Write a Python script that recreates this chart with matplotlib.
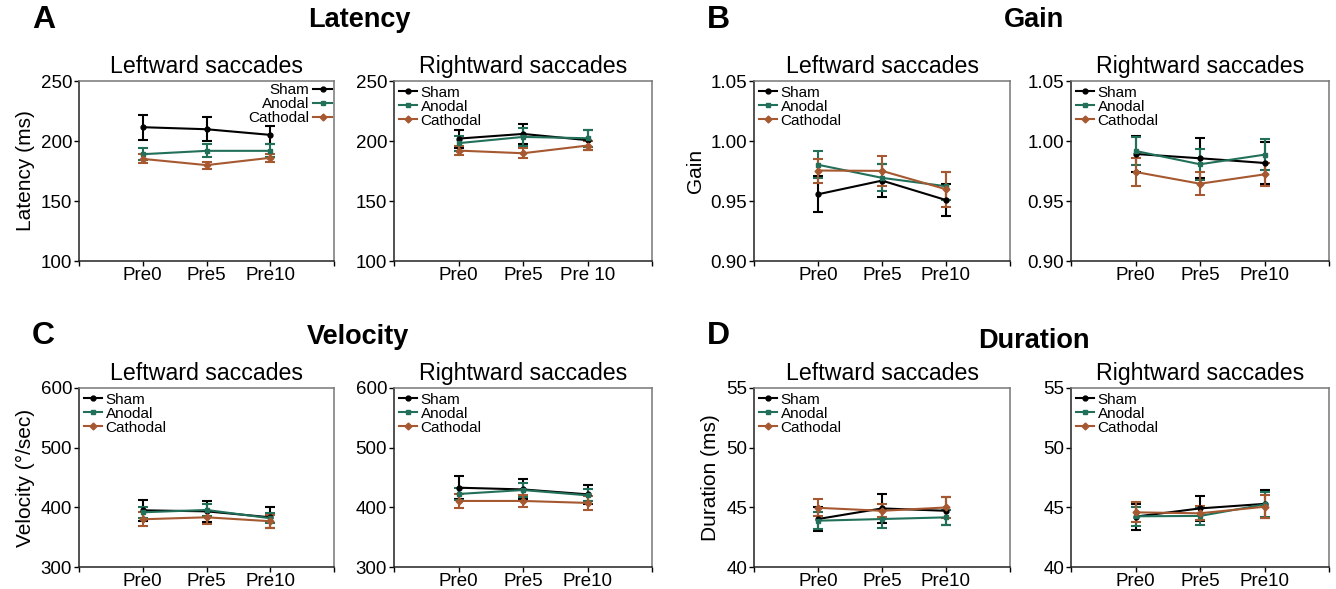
import matplotlib
matplotlib.use("Agg")
import matplotlib.pyplot as plt
from matplotlib.lines import Line2D

plt.rcParams['font.family'] = ['Liberation Sans', 'DejaVu Sans']

sessions = ["Pre0", "Pre5", "Pre10"]
sessions_alt = ["Pre0", "Pre5", "Pre 10"]
groups = ["Sham", "Anodal", "Cathodal"]

# Latency (ms)
lat_left_mean = {"Sham": [211.5, 209.8, 205.1], "Anodal": [189.0, 191.8, 191.8], "Cathodal": [185.1, 179.9, 186.0]}
lat_left_err = {"Sham": [10.5, 9.8, 7.8], "Anodal": [5.0, 5.5, 5.3], "Cathodal": [3.8, 3.0, 3.5]}
lat_right_mean = {"Sham": [202.0, 205.9, 200.7], "Anodal": [198.2, 203.4, 202.3], "Cathodal": [192.0, 189.8, 196.2]}
lat_right_err = {"Sham": [7.5, 8.1, 8.5], "Anodal": [6.2, 7.5, 7.0], "Cathodal": [3.8, 4.3, 4.0]}

# Gain
gain_left_mean = {"Sham": [0.9556, 0.9670, 0.9508], "Anodal": [0.9802, 0.9693, 0.9623], "Cathodal": [0.9754, 0.9751, 0.9598]}
gain_left_err = {"Sham": [0.0150, 0.0135, 0.0133], "Anodal": [0.0111, 0.0112, 0.0118], "Cathodal": [0.0100, 0.0123, 0.0145]}
gain_right_mean = {"Sham": [0.9892, 0.9856, 0.9817], "Anodal": [0.9917, 0.9806, 0.9886], "Cathodal": [0.9742, 0.9644, 0.9722]}
gain_right_err = {"Sham": [0.0147, 0.0166, 0.0175], "Anodal": [0.0116, 0.0128, 0.0128], "Cathodal": [0.0115, 0.0098, 0.0095]}

# Velocity (deg/sec)
vel_left_mean = {"Sham": [395.0, 393.3, 383.3], "Anodal": [391.7, 395.6, 381.7], "Cathodal": [380.0, 383.3, 376.7]}
vel_left_err = {"Sham": [18.0, 17.5, 17.3], "Anodal": [9.0, 10.0, 8.0], "Cathodal": [11.5, 10.5, 10.5]}
vel_right_mean = {"Sham": [432.9, 430.0, 421.8], "Anodal": [422.4, 429.0, 420.1], "Cathodal": [410.7, 410.7, 407.4]}
vel_right_err = {"Sham": [19.0, 16.7, 15.5], "Anodal": [10.0, 12.0, 10.0], "Cathodal": [11.0, 10.0, 11.5]}

# Duration (ms)
dur_left_mean = {"Sham": [44.02, 44.91, 44.71], "Anodal": [43.88, 44.02, 44.16], "Cathodal": [44.96, 44.71, 44.99]}
dur_left_err = {"Sham": [1.0, 1.2, 1.15], "Anodal": [0.7, 0.75, 0.6], "Cathodal": [0.7, 0.55, 0.85]}
dur_right_mean = {"Sham": [44.22, 44.91, 45.29], "Anodal": [44.25, 44.28, 45.24], "Cathodal": [44.58, 44.50, 45.05]}
dur_right_err = {"Sham": [1.1, 1.07, 1.2], "Anodal": [0.8, 0.75, 1.05], "Cathodal": [0.85, 0.6, 0.95]}

colors = {"Sham": "#000000", "Anodal": "#22705a", "Cathodal": "#a65830"}
markers = {"Sham": "o", "Anodal": "s", "Cathodal": "D"}

W, H = 1336, 589
fig = plt.figure(figsize=(W / 100, H / 100), dpi=100)


def add_axes(x0, y0, x1, y1):
    return fig.add_axes([x0 / W, 1 - y1 / H, (x1 - x0) / W, (y1 - y0) / H])


def draw(ax, means, errs, labels, ylim, yticks, yfmt, title, ylabel=None, legend_right=False):
    x = list(range(len(labels)))
    handles = []
    for g in groups:
        ax.errorbar(x, means[g], yerr=errs[g], color=colors[g], marker=markers[g],
                    markersize=3.5, lw=1.5, elinewidth=1.5, capsize=3.3, capthick=1.5)
        handles.append(Line2D([], [], color=colors[g], marker=markers[g], markersize=3.5,
                              lw=1.5, label=g))
    ax.set_xlim(-1, 3)
    ax.set_ylim(*ylim)
    ax.set_yticks(yticks)
    ax.set_yticklabels([yfmt.format(v) for v in yticks], fontsize=13.5)
    ax.set_xticks([-1] + x + [3])
    ax.set_xticklabels([""] + labels + [""], fontsize=13.5)
    ax.tick_params(direction="out", length=3.5, width=1, pad=1.5)
    ax.tick_params(axis="x", pad=1)
    for s in ["left", "bottom"]:
        ax.spines[s].set_color("#222222")
        ax.spines[s].set_linewidth(1.1)
    for s in ["top", "right"]:
        ax.spines[s].set_color("#777777")
        ax.spines[s].set_linewidth(1.1)
    ax.set_title(title, fontsize=16.7, pad=6)
    if ylabel:
        ax.set_ylabel(ylabel, fontsize=15, labelpad=4)
    common = dict(frameon=False, fontsize=11, handlelength=1.2, handletextpad=0.25,
                  labelspacing=0.0, borderpad=0.1)
    if legend_right:
        ax.legend(handles=handles, loc="upper right", markerfirst=False,
                  borderaxespad=0.05, **common)
    else:
        ax.legend(handles=handles, loc="upper left", borderaxespad=0.2, **common)


top = (81, 261)
bot = (388, 567)
xs = [(79, 334), (394, 652), (754, 1010), (1071, 1329)]

axA1 = add_axes(xs[0][0], top[0], xs[0][1], top[1])
axA2 = add_axes(xs[1][0], top[0], xs[1][1], top[1])
axB1 = add_axes(xs[2][0], top[0], xs[2][1], top[1])
axB2 = add_axes(xs[3][0], top[0], xs[3][1], top[1])
axC1 = add_axes(xs[0][0], bot[0], xs[0][1], bot[1])
axC2 = add_axes(xs[1][0], bot[0], xs[1][1], bot[1])
axD1 = add_axes(xs[2][0], bot[0], xs[2][1], bot[1])
axD2 = add_axes(xs[3][0], bot[0], xs[3][1], bot[1])

draw(axA1, lat_left_mean, lat_left_err, sessions, (100, 250), [100, 150, 200, 250], "{:.0f}",
     "Leftward saccades", "Latency (ms)", legend_right=True)
draw(axA2, lat_right_mean, lat_right_err, sessions_alt, (100, 250), [100, 150, 200, 250], "{:.0f}",
     "Rightward saccades")
draw(axB1, gain_left_mean, gain_left_err, sessions, (0.90, 1.05), [0.90, 0.95, 1.00, 1.05], "{:.2f}",
     "Leftward saccades", "Gain")
draw(axB2, gain_right_mean, gain_right_err, sessions, (0.90, 1.05), [0.90, 0.95, 1.00, 1.05], "{:.2f}",
     "Rightward saccades")
draw(axC1, vel_left_mean, vel_left_err, sessions, (300, 600), [300, 400, 500, 600], "{:.0f}",
     "Leftward saccades", "Velocity (°/sec)")
draw(axC2, vel_right_mean, vel_right_err, sessions, (300, 600), [300, 400, 500, 600], "{:.0f}",
     "Rightward saccades")
draw(axD1, dur_left_mean, dur_left_err, sessions, (40, 55), [40, 45, 50, 55], "{:.0f}",
     "Leftward saccades", "Duration (ms)")
draw(axD2, dur_right_mean, dur_right_err, sessions, (40, 55), [40, 45, 50, 55], "{:.0f}",
     "Rightward saccades")

# Panel letters and section titles
for letter, (px, py) in {"A": (32, 20), "B": (707, 20), "C": (32, 336), "D": (707, 336)}.items():
    fig.text(px / W, 1 - py / H, letter, fontsize=23, fontweight="bold", ha="left", va="center")
for t, (px, py) in {"Latency": (359, 20), "Gain": (1034, 20), "Velocity": (358, 337),
                    "Duration": (1034, 341)}.items():
    fig.text(px / W, 1 - py / H, t, fontsize=19.5, fontweight="bold", ha="center", va="center")

fig.savefig("out.png", dpi=100)
